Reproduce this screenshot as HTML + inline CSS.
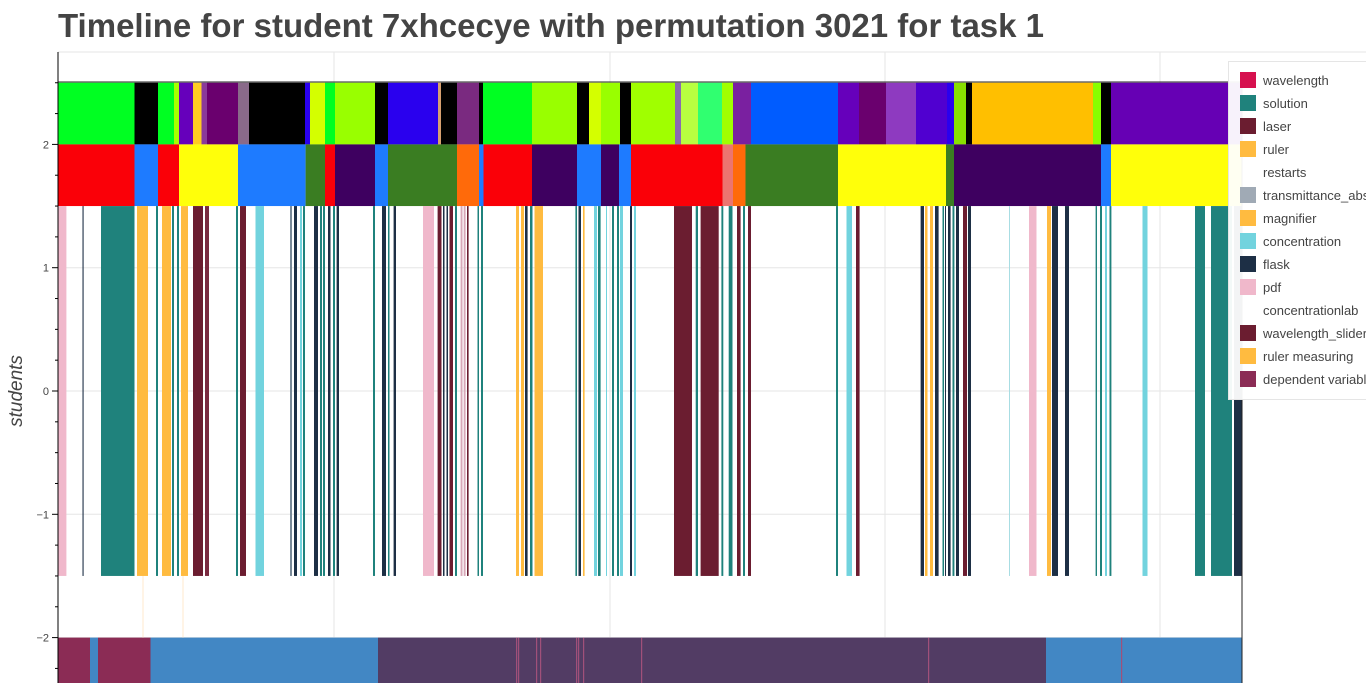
<!DOCTYPE html>
<html><head><meta charset="utf-8">
<style>
html,body{margin:0;padding:0;background:#fff;width:1366px;height:683px;overflow:hidden;font-family:"Liberation Sans",sans-serif}
#title{position:absolute;left:58px;top:7px;font-size:33px;font-weight:bold;color:#444;white-space:nowrap}
svg{position:absolute;left:0;top:0}
</style></head><body>
<div id="title">Timeline for student 7xhcecye with permutation 3021 for task 1</div>
<svg id="chart" width="1366" height="683"></svg>
<script>
// ---- data (time units on x) ----
const xDomain=[58,1242];
const yTicks=[2,1,0,-1,-2];
// top band (y 2..2.5): boundaries + colors
const topBounds=[58,134.5,158,174,179,193,201.5,207,238,249,305,310,325,335,375,388,438,441,457,479,483,532,577,589,601,620,631,675,681,698,722,733,751,838,859,886,916,947,954,966,972,1093,1101,1111,1242];
const topColors=["#00ff22","#000","#00ff22","#a8ff00","#6600bb","#ffcc22","#8a3a9a","#6a006e","#8a6a8a","#000","#2a00ee","#d4ff00","#00ff22","#99ff00","#000","#2a00ee","#d7a070","#000","#7a2a80","#000","#00ff22","#99ff00","#000","#d4ff00","#99ff00","#000","#a0ff00","#8a6ab0","#b8ff40","#30ff70","#a0ff00","#7a20a0","#005cff","#6600bb","#6a006e","#8e3ac0","#5000d0","#2a00ee","#88e000","#000","#ffbf00","#88ff00","#000","#6600b4"];
// phase band (y 1.5..2)
const midBounds=[58,134.5,158,179,238,305.6,325,335,375,388,457,479,483.5,532,577,601,619,631,722.5,733,745.5,838,946,954,1101,1111,1242];
const midColors=["#fa0008","#1e7bff","#fa0008","#ffff0a","#1e7bff","#3a7d22","#fa0008","#3e0060","#1e7bff","#3a7d22","#ff6a0a","#1e7bff","#fa0008","#3e0060","#1e7bff","#3e0060","#1e7bff","#fa0008","#ec7570","#ff6a0a","#3a7d22","#ffff0a","#3a7d22","#3e0060","#1e7bff","#ffff0a"];
// event band (y -1.5..1.5)
const evStarts=[58,82.5,101,137,156,162,172,177,181,193,205,236,240,255.5,290,294,300,303,314,320,323,328,333,336.6,373,382,388,393.6,423,437.6,443,446.5,449.5,455,460.6,463.7,467,477.5,481,516,521,525,530,534.5,575.4,578.5,583,594,598,606,612,617,620,630,634,674,695.7,700.6,721.4,728.7,737,743,748,836,846.5,856,920.6,925,930,935,942.5,945,948,952.5,956,963,968,1009,1029,1047,1052,1065,1095.6,1100,1105,1109.5,1142.5,1195,1211,1234];
const evEnds  =[66.4,83.6,134.5,148,158,171,174,179,188,203,209,238,246,264,292,297,302,305,318,322,325,330.5,335,339,375,386,389.5,396,434,441.5,444.5,448,453,457,462.5,465.6,468.6,479,483,519,524,527.6,532.5,543,577,581,584.6,597,600.6,607,614,619,623,632,636,692,698,718.7,723.3,732.5,740.6,745,751,838,852,859.6,924,927.5,933,938.6,944,946,950.6,954.4,959,967,971,1010,1036.5,1051,1058,1069,1097,1102,1107,1111.4,1147.5,1205,1232,1242];
const evColors=["#f0b8cb","#1d2f45","#1f827c","#ffbb40","#1f827c","#ffbb40","#1f827c","#1f827c","#ffbb40","#6b1d30","#7a2a40","#1f827c","#6b1d30","#72d3de","#7a8a98","#1d2f45","#72d3de","#1f827c","#1d2f45","#1f827c","#1f827c","#1d2f45","#1f827c","#1d2f45","#1f827c","#1d2f45","#1f827c","#1d2f45","#f0b8cb","#6b1d30","#1d2f45","#1d2f45","#6b1d30","#1f827c","#d8a8b8","#d8a8b8","#6b1d30","#1f827c","#1f827c","#ffbb40","#ffbb40","#1d2f45","#1f827c","#ffbb40","#1f827c","#1d2f45","#ffbb40","#72d3de","#1f827c","#72d3de","#1f827c","#1f827c","#72d3de","#1d2f45","#72d3de","#6b1d30","#1f827c","#6b1d30","#1f827c","#1f827c","#6b1d30","#1f827c","#6b1d30","#1f827c","#72d3de","#6b1d30","#1d2f45","#ffbb40","#ffbb40","#1d2f45","#1f827c","#1d2f45","#1d2f45","#1f827c","#1d2f45","#6b1d30","#1d2f45","#a8dde3","#f0b8cb","#ffbb40","#1d2f45","#1d2f45","#1f827c","#1f827c","#72d3de","#1f827c","#72d3de","#1f827c","#1f827c","#1d2f45"];
// bottom band (y -2 .. -2.5)
const botBounds=[58,90,98,150.5,378,1046,1242];
const botColors=["#8b2c55","#4287c4","#8b2c55","#4287c4","#523c64","#4287c4"];
const botLines=[516,518,536,540,576,578,583,641,928,1121];
// legend
const legendLabels=["wavelength","solution","laser","ruler","restarts","transmittance_abs","magnifier","concentration","flask","pdf","concentrationlab","wavelength_slider","ruler measuring","dependent variable"];
const legendColors=["#d6114f","#1f827c","#6b1d30","#ffbb40",null,"#a0aab5","#ffbb40","#72d3de","#1d2f45","#f0b8cb",null,"#6b1d30","#ffbb40","#8b2c55"];

// ---- scales ----
const X0=58,X1=1242;
const sx=v=>X0+(v-xDomain[0])/(xDomain[1]-xDomain[0])*(X1-X0);
const sy=v=>391-v*123.3;
const svg=document.getElementById('chart');
const NS='http://www.w3.org/2000/svg';
function mk(tag,attrs,parent){const e=document.createElementNS(NS,tag);for(const k in attrs)e.setAttribute(k,attrs[k]);(parent||svg).appendChild(e);return e;}

// grid
const grid=mk('g',{});


[334,610,885,1160].forEach(x=>mk('line',{x1:x,x2:x,y1:52,y2:683,stroke:'#e5e5e5','stroke-width':1},grid));
yTicks.forEach(t=>mk('line',{x1:X0,x2:X1,y1:sy(t),y2:sy(t),stroke:'#e5e5e5','stroke-width':1},grid));
mk('line',{x1:X0,x2:1366,y1:52,y2:52,stroke:'#e5e5e5'},grid);

function bars(starts,ends,colors,y0,y1,name){
  const g=mk('g',{});
  
  
  for(let i=0;i<starts.length;i++){
    const r=mk('rect',{x:sx(starts[i]),y:sy(y1),width:Math.max(0.8,sx(ends[i])-sx(starts[i])),height:sy(y0)-sy(y1),fill:colors[i]},g);
    
    
  }
}
function band(bounds,colors,y0,y1,name){bars(bounds.slice(0,-1),bounds.slice(1),colors,y0,y1,name);}
band(topBounds,topColors,2,2.5,'action-band');
band(midBounds,midColors,1.5,2,'phase-band');
bars(evStarts,evEnds,evColors,-1.5,1.5,'event-band');
band(botBounds,botColors,-2.5,-2,'outcome-band');
const bl=mk('g',{});


botLines.forEach(v=>mk('rect',{x:sx(v),y:sy(-2),width:1.2,height:60,fill:'#a0507a'},bl));
[143,183].forEach(v=>mk('line',{x1:sx(v),x2:sx(v),y1:sy(-1.5),y2:sy(-2),stroke:'#ffe8cc','stroke-width':1}));

// frame
mk('line',{x1:X0,x2:X1,y1:82,y2:82,stroke:'#222','stroke-width':1});
mk('line',{x1:X1,x2:X1,y1:82,y2:683,stroke:'#222','stroke-width':1});

// y axis
const ax=mk('g',{});


mk('line',{x1:X0,x2:X0,y1:52,y2:683,stroke:'#000','stroke-width':1},ax);
for(let v=-2.25;v<=2.5;v+=0.25){const y=sy(v);if(y<52||y>683)continue;const major=Math.abs(v-Math.round(v))<1e-6;mk('line',{x1:X0-(major?6:3),x2:X0,y1:y,y2:y,stroke:'#000'},ax);}
yTicks.forEach(t=>{const tx=mk('text',{x:X0-9,y:sy(t)+4,'text-anchor':'end','font-size':11,fill:'#444','font-family':'Liberation Sans, sans-serif'},ax);tx.textContent=t<0?'\u2212'+(-t):String(t);});
const yl=mk('text',{x:0,y:0,transform:'translate(22,391) rotate(-90)','text-anchor':'middle','font-size':19,'font-style':'italic',fill:'#444','font-family':'Liberation Sans, sans-serif'});


yl.textContent='students';

// legend
const lg=mk('g',{});


mk('rect',{x:1228.5,y:61.5,width:150,height:338,fill:'rgba(255,255,255,0.95)',stroke:'#e5e5e5'},lg);
legendLabels.forEach((lab,i)=>{
  const y=70+i*23;
  const e=mk('g',{},lg);
  
  
  if(legendColors[i])mk('rect',{x:1240,y:y+2,width:16,height:16,fill:legendColors[i]},e);
  const t=mk('text',{x:1263,y:y+15,'font-size':13,fill:'#444','font-family':'Liberation Sans, sans-serif'},e);
  t.textContent=lab;
});
</script>
</body></html>
